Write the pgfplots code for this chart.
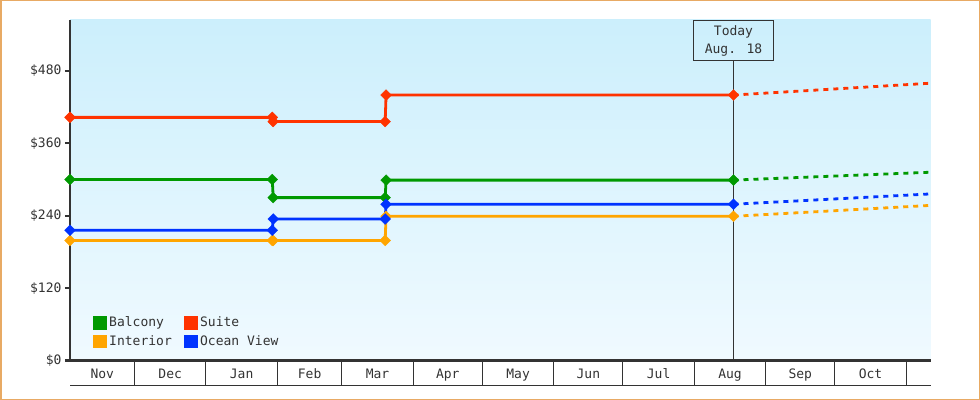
\documentclass[border=0pt]{standalone}
\usepackage{fontspec}
\setmainfont{DejaVu Sans Mono}
\usepackage{pgfplots}
\pgfplotsset{compat=1.18}

\definecolor{cgreen}{RGB}{0,153,0}
\definecolor{cred}{RGB}{255,51,0}
\definecolor{corange}{RGB}{255,165,0}
\definecolor{cblue}{RGB}{0,51,255}
\definecolor{axisgray}{RGB}{51,51,51}
\definecolor{textgray}{RGB}{51,51,51}
\definecolor{bgtop}{RGB}{204,239,252}
\definecolor{bgbot}{RGB}{240,250,255}
\definecolor{bordercol}{RGB}{232,170,100}

\pgfplotsset{
  ser/.style={color=#1, line width=2.8bp, mark=square*,
    mark size=3.8bp, mark options={solid, rotate=45, line width=0.4bp}},
  fc/.style={color=#1, line width=2.8bp, dash pattern=on 5bp off 5bp, forget plot},
}

\begin{document}
\begin{tikzpicture}
\path[use as bounding box] (0,0) rectangle (980bp,400bp);
\begin{axis}[
  at={(70bp,39.5bp)}, anchor=south west,
  scale only axis, width=860.7bp, height=340.5bp,
  xmin=2, xmax=375.6, ymin=0, ymax=564.4,
  clip=false,
  axis x line=bottom, axis y line=left,
  axis line style={-, line width=2bp, draw=axisgray},
  axis background/.style={top color=bgtop, bottom color=bgbot, draw=none},
  tick align=outside,
  major tick length=5bp,
  minor tick length=24.5bp,
  ytick={0,120,240,360,480},
  yticklabels={\$0,\$120,\$240,\$360,\$480},
  ytick style={line width=2bp, draw=axisgray},
  xtick={16,45.5,76.5,106,135.5,166,196.5,227,257.5,288.5,319,349.5},
  xticklabels={Nov,Dec,Jan,Feb,Mar,Apr,May,Jun,Jul,Aug,Sep,Oct},
  xtick style={draw=none},
  minor xtick={30,61,92,120,151,181,212,242,273,304,334,365},
  minor x tick style={draw=axisgray, line width=1bp},
  tick label style={font=\fontsize{13bp}{15bp}\selectfont, text=textgray},
  legend columns=2,
  legend cell align=left,
  legend image code/.code={\fill[#1] (0bp,-5.5bp) rectangle (11bp,5.5bp);},
  legend style={at={(0.027,0.132)}, anchor=north west, draw=none, fill=none,
    inner sep=0pt, font=\fontsize{13bp}{15bp}\selectfont, text=textgray,
    row sep=5bp, nodes={inner sep=0.5bp},
    /tikz/every odd column/.append style={column sep=1.5bp},
    /tikz/every even column/.append style={column sep=12bp}},
]
% month boxes below the axis
\draw[axisgray, line width=1bp] ([yshift=-24.5bp]rel axis cs:0,0) -- ([yshift=-24.5bp]rel axis cs:1,0);
% today marker
\node[draw=axisgray, line width=1bp, minimum width=80.4bp, minimum height=40.3bp,
  anchor=north, align=center, font=\fontsize{13bp}{18bp}\selectfont,
  text=textgray, inner sep=0pt] (today) at (axis cs:290,564.4) {\raisebox{-3bp}{Today}\\\raisebox{-3bp}{Aug. 18}};
\draw[axisgray, line width=1bp] (axis cs:290,0) -- (today.south);

% Balcony
\addplot[ser=cgreen] coordinates {(2,300) (89.8,300) (90.2,270) (138.8,270) (139.2,299) (290,299)};
\addlegendentry{Balcony}
% Suite
\addplot[ser=cred] coordinates {(2,403) (89.8,403) (90.2,396) (138.8,396) (139.2,440) (290,440)};
\addlegendentry{Suite}
% Interior
\addplot[ser=corange] coordinates {(2,199) (89.8,199) (90.2,199) (138.8,199) (139.2,239) (290,239)};
\addlegendentry{Interior}
% Ocean View
\addplot[ser=cblue] coordinates {(2,216) (89.8,216) (90.2,234.5) (138.8,234.5) (139.2,259) (290,259)};
\addlegendentry{Ocean View}

% forecasts
\addplot[fc=cgreen] coordinates {(290,299) (375,312)};
\addplot[fc=cred] coordinates {(290,440) (375,459.5)};
\addplot[fc=corange] coordinates {(290,239) (375,257)};
\addplot[fc=cblue] coordinates {(290,259) (375,276)};
\end{axis}
\draw[bordercol, line width=1.5bp] (0.75bp,0.75bp) rectangle (979.25bp,399.25bp);
\end{tikzpicture}
\end{document}
